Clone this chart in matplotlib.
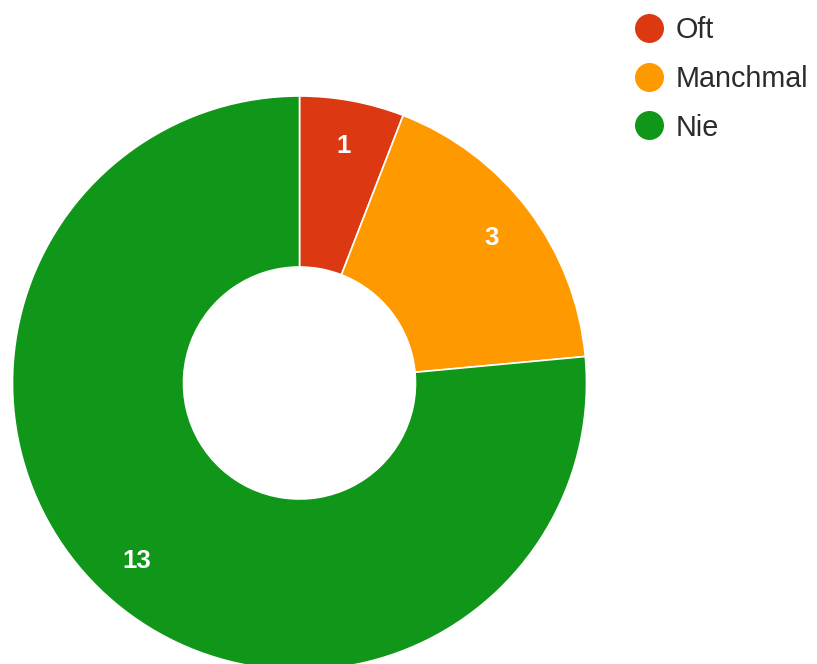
import matplotlib
matplotlib.use("Agg")
import matplotlib.pyplot as plt

categories = ["Oft", "Manchmal", "Nie"]
values = [1, 3, 13]
colors = ["#DC3912", "#FF9900", "#109618"]

W, H = 817, 664
fig = plt.figure(figsize=(W / 100, H / 100), dpi=100)
ax = fig.add_axes([0, 0, 1, 1])

cx, cy = 299.5, H - 383
R, r_in = 287, 116
total = sum(values)

wedges, texts, autotexts = ax.pie(
    values, colors=colors, center=(cx, cy), radius=R,
    startangle=90, counterclock=False,
    autopct=lambda p: f"{round(p * total / 100)}",
    pctdistance=0.84,
    wedgeprops=dict(width=R - r_in, edgecolor="white", linewidth=1.2),
    textprops=dict(color="white", fontsize=18.5, family="Liberation Sans",
                   fontweight="bold"),
    frame=True,
)
ax.set_xlim(0, W)
ax.set_ylim(0, H)
ax.set_aspect("equal")
ax.axis("off")

# legend
leg_x, leg_y0, leg_dy = 649.5, 28, 48.5
for i, (cat, col) in enumerate(zip(categories, colors)):
    y = H - (leg_y0 + i * leg_dy)
    ax.scatter([leg_x], [y], s=(29 * 0.72) ** 2, color=col, zorder=5, linewidths=0)
    ax.text(676, y - 10.5, cat, fontsize=20.7, family="Liberation Sans",
            color="#2b2b2b", ha="left", va="baseline")

fig.savefig("out.png", dpi=100)
